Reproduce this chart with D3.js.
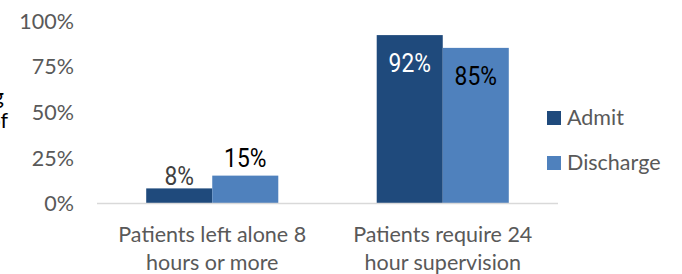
<!DOCTYPE html>
<html>
<head>
<meta charset="utf-8">
<script src="https://cdn.jsdelivr.net/npm/d3@7"></script>
<style>
  html, body { margin: 0; padding: 0; background: #fff; }
  svg { display: block; }
</style>
</head>
<body>
<div id="chart"></div>
<script>
// Data
const categories = [
    ['Patients left alone 8', 'hours or more'],
    ['Patients require 24', 'hour supervision']
];
const seriesNames = ['Admit', 'Discharge'];
const admitValues = [0.08, 0.92];
const dischargeValues = [0.15, 0.85];
const yTicks = [0, 0.25, 0.5, 0.75, 1];
const titleLines = ['Patients needing', 'level of'];

const colors = { Admit: '#1F4A7C', Discharge: '#4F81BD' };
const labelFont = 'Roboto, sans-serif';
const axisFont = 'Lato, "Open Sans", sans-serif';
const axisSize = '21.5px';

function drawChart() {
    const width = 682, height = 274;
    const container = d3.select('#chart');
    container.html('');

    const svg = container.append('svg')
        .attr('width', width)
        .attr('height', height);

    const rows = categories.map((c, i) => ({
        key: c.join(' '),
        lines: c,
        values: [
            { series: 'Admit', value: admitValues[i] },
            { series: 'Discharge', value: dischargeValues[i] }
        ]
    }));

    // Scales
    const x0 = d3.scaleBand()
        .domain(rows.map(d => d.key))
        .range([97, 558])
        .padding(0);

    const groupWidth = x0.bandwidth() * 0.573;
    const x1 = d3.scaleBand()
        .domain(seriesNames)
        .range([(x0.bandwidth() - groupWidth) / 2, (x0.bandwidth() + groupWidth) / 2])
        .padding(0);

    const y = d3.scaleLinear()
        .domain([0, 1])
        .range([203, 20.5]);

    // Y axis labels (no line, no ticks)
    const yAxis = svg.append('g')
        .attr('transform', 'translate(74,0)')
        .call(d3.axisLeft(y)
            .tickValues(yTicks)
            .tickFormat(d3.format('.0%'))
            .tickSize(0)
            .tickPadding(0));
    yAxis.select('.domain').remove();
    yAxis.selectAll('text')
        .attr('fill', '#595959')
        .attr('font-family', axisFont)
        .attr('font-size', axisSize)
        .attr('dy', '0.36em');

    // Y title, mostly cut off on the left
    svg.append('g')
        .selectAll('text')
        .data(titleLines)
        .enter()
        .append('text')
        .attr('x', (d, i) => i === 0 ? 4 : 8)
        .attr('y', (d, i) => 104 + i * 24)
        .attr('text-anchor', 'end')
        .attr('fill', '#000')
        .attr('font-family', axisFont)
        .attr('font-size', axisSize)
        .text(d => d);

    // Bars
    const groups = svg.selectAll('.group')
        .data(rows)
        .enter()
        .append('g')
        .attr('class', 'group')
        .attr('transform', d => `translate(${x0(d.key)},0)`);

    groups.selectAll('rect')
        .data(d => d.values)
        .enter()
        .append('rect')
        .attr('x', d => x1(d.series))
        .attr('y', d => y(d.value))
        .attr('width', x1.bandwidth())
        .attr('height', d => y(0) - y(d.value))
        .attr('fill', d => colors[d.series]);

    // Data labels: inside end for tall bars, outside end for short ones
    groups.selectAll('.lbl')
        .data(d => d.values)
        .enter()
        .append('text')
        .attr('class', 'lbl')
        .attr('transform', d => {
            const lx = x1(d.series) + x1.bandwidth() / 2;
            const ly = d.value > 0.5
                ? y(d.value) + 37
                : y(d.value) - (d.series === 'Admit' ? 3 : 9);
            return `translate(${lx},${ly}) scale(0.86,1)`;
        })
        .attr('text-anchor', 'middle')
        .attr('font-family', labelFont)
        .attr('font-size', '26.5px')
        .attr('fill', d => {
            if (d.value > 0.5) return d.series === 'Admit' ? '#fff' : '#000';
            return d.series === 'Admit' ? '#404040' : '#000';
        })
        .text(d => d3.format('.0%')(d.value));

    // Baseline
    svg.append('line')
        .attr('x1', x0.range()[0])
        .attr('x2', x0.range()[1])
        .attr('y1', y(0) + 0.5)
        .attr('y2', y(0) + 0.5)
        .attr('stroke', '#D9D9D9')
        .attr('stroke-width', 1.5);

    // Category labels
    const catLabels = svg.selectAll('.cat')
        .data(rows)
        .enter()
        .append('text')
        .attr('class', 'cat')
        .attr('text-anchor', 'middle')
        .attr('fill', '#595959')
        .attr('font-family', axisFont)
        .attr('font-size', axisSize);

    catLabels.selectAll('tspan')
        .data(d => d.lines.map(l => ({ l, x: x0(d.key) + x0.bandwidth() / 2 })))
        .enter()
        .append('tspan')
        .attr('x', d => d.x)
        .attr('y', (d, i) => 242 + i * 28)
        .text(d => d.l);

    // Legend
    const legend = svg.selectAll('.legend')
        .data(seriesNames)
        .enter()
        .append('g')
        .attr('class', 'legend')
        .attr('transform', (d, i) => `translate(547,${111 + i * 45})`);

    legend.append('rect')
        .attr('width', 14)
        .attr('height', 14)
        .attr('fill', d => colors[d]);

    legend.append('text')
        .attr('x', 20)
        .attr('y', 13.5)
        .attr('fill', '#595959')
        .attr('font-family', axisFont)
        .attr('font-size', axisSize)
        .text(d => d);
}

drawChart();
</script>
</body>
</html>
